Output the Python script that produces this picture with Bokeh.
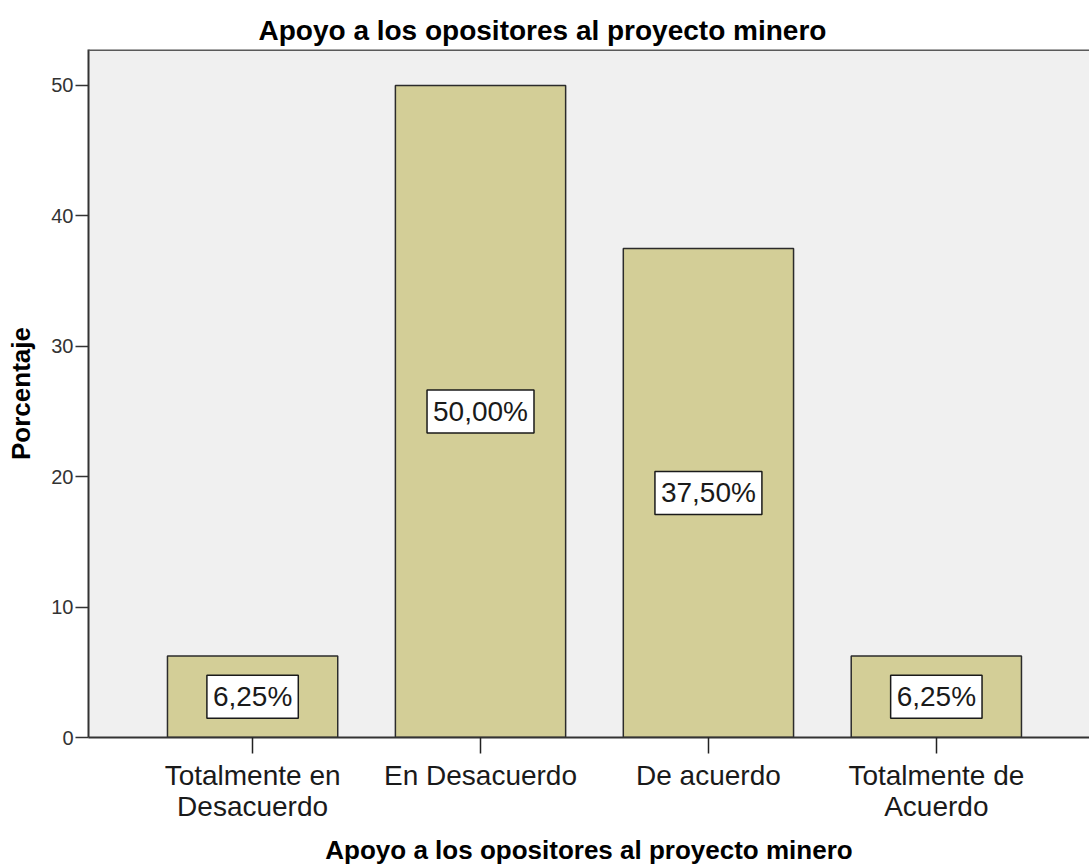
from bokeh.plotting import figure
from bokeh.models import ColumnDataSource, Label, FixedTicker, Range1d, Span
from bokeh.embed import file_html
from bokeh.resources import INLINE

# ---- data ----
categories = ["Totalmente en\nDesacuerdo", "En Desacuerdo", "De acuerdo", "Totalmente de\nAcuerdo"]
percentages = [6.25, 50.0, 37.5, 6.25]
label_texts = ["6,25%", "50,00%", "37,50%", "6,25%"]
y_ticks = [0, 10, 20, 30, 40, 50]
title_text = "Apoyo a los opositores al proyecto minero"
y_title = "Porcentaje"

FONT = "Liberation Sans"
Y_MAX = 52.76

xs = list(range(len(categories)))
src = ColumnDataSource(dict(x=xs, top=percentages))

p = figure(width=1089, height=867, output_backend="svg", toolbar_location=None,
           x_range=Range1d(-0.72, 3.672), y_range=Range1d(0, Y_MAX),
           min_border_left=88, min_border_right=0, min_border_top=49, min_border_bottom=130,
           background_fill_color="#F0F0F0", border_fill_color="white",
           outline_line_color=None)
p.grid.visible = False

p.title.text = title_text
p.title.text_font = FONT
p.title.text_font_size = "28px"
p.title.text_font_style = "bold"
p.title.align = "left"
p.title.offset = 170
p.title.standoff = 8
p.title.text_color = "#000000"

p.vbar(x="x", top="top", width=0.747, source=src,
       fill_color="#D3CE97", line_color="#2b2b2b", line_width=1.5)

for xi, v, t in zip(xs, percentages, label_texts):
    p.add_layout(Label(x=xi, y=v / 2, text=t, text_align="center", text_baseline="middle",
                       text_font=FONT, text_font_size="28px", text_color="#1a1a1a",
                       background_fill_color="white", border_line_color="#1a1a1a",
                       border_line_width=1.5, padding=6))

p.add_layout(Span(location=Y_MAX, dimension="width", line_color="#5a5a5a", line_width=3))

# y axis
ya = p.yaxis[0]
ya.ticker = FixedTicker(ticks=y_ticks)
ya.minor_tick_line_color = None
ya.major_tick_in = 0
ya.major_tick_out = 13
ya.major_tick_line_color = "#333333"
ya.major_tick_line_width = 1.5
ya.axis_line_color = "#333333"
ya.axis_line_width = 2
ya.major_label_text_font = FONT
ya.major_label_text_font_size = "20px"
ya.major_label_text_color = "#333333"
ya.major_label_standoff = 2
ya.axis_label = y_title
ya.axis_label_text_font = FONT
ya.axis_label_text_font_size = "26px"
ya.axis_label_text_font_style = "bold"
ya.axis_label_text_color = "#000000"
ya.axis_label_standoff = 12

# x axis
xa = p.xaxis[0]
xa.ticker = FixedTicker(ticks=xs)
xa.major_label_overrides = {i: c for i, c in zip(xs, categories)}
xa.minor_tick_line_color = None
xa.major_tick_in = 0
xa.major_tick_out = 16
xa.major_tick_line_color = "#222222"
xa.major_tick_line_width = 1.5
xa.axis_line_color = "#333333"
xa.axis_line_width = 2
xa.major_label_text_font = FONT
xa.major_label_text_font_size = "28px"
xa.major_label_text_line_height = 1.0
xa.major_label_text_color = "#1a1a1a"
xa.major_label_standoff = 6
xa.axis_label = title_text
xa.axis_label_text_font = FONT
xa.axis_label_text_font_size = "26px"
xa.axis_label_text_font_style = "bold"
xa.axis_label_text_color = "#000000"
xa.axis_label_standoff = 10

open("out.html", "w").write(file_html(p, INLINE))
